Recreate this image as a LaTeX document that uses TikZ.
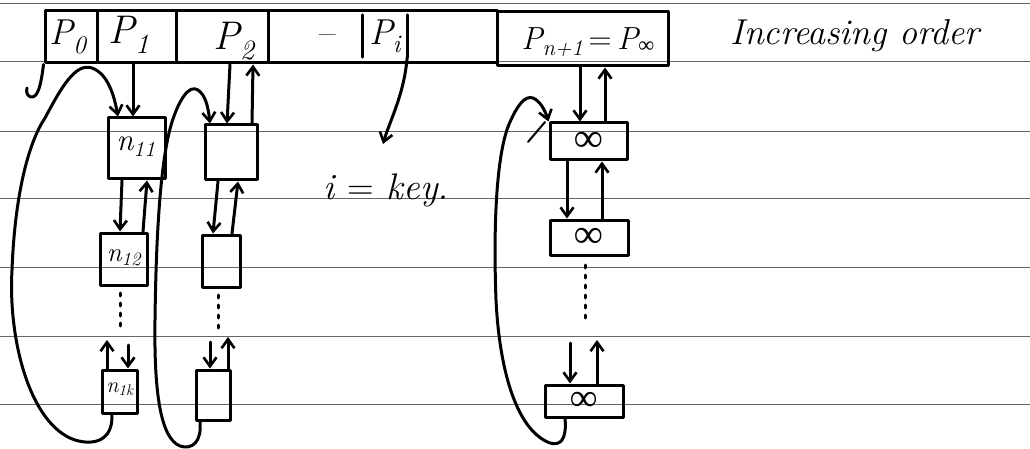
\documentclass[tikz,border=0pt]{standalone}
\usepackage{fontspec}
\newfontfamily\symf{Liberation Serif}
\usetikzlibrary{arrows.meta}
\tikzset{
  rule/.style={black!60, line width=1pt},
  ink/.style={black, line width=3pt, line cap=round, line join=round},
  thinink/.style={black, line width=2pt, line cap=round, line join=round},
  arr/.style={ink, -{Straight Barb[length=9pt,width=13pt,line width=2.6pt]}},
  cellbox/.style={draw, ink, inner sep=0pt},
  listbox/.style={draw, ink, inner sep=0pt},
  lab/.style={inner sep=0pt, font=\itshape\fontsize{40}{42}\selectfont},
  nlab/.style={inner sep=0pt, font=\itshape\fontsize{#1}{#1}\selectfont},
  inf/.style={font=\symf\bfseries\fontsize{#1}{#1}\selectfont},
  dots/.style={black, line width=3pt, line cap=round, dash pattern=on 3pt off 7pt},
}
\begin{document}
\begin{tikzpicture}[x=1pt,y=-1pt]
\useasboundingbox (0,0) rectangle (1030,449);
\fill[white] (0,0) rectangle (1030,449);
% ruled lines
\foreach \yy in {4,62,132,199,267,336,404}
  \draw[rule] (0,\yy) -- (1030,\yy);

% top row of cells
\node[cellbox, minimum width=52pt, minimum height=52pt] (c0) at (71,37) {};
\node[cellbox, minimum width=79pt, minimum height=52pt] (c1) at (136.5,37) {};
\node[cellbox, minimum width=92pt, minimum height=52pt] (c2) at (222,37) {};
\node[cellbox, minimum width=229pt, minimum height=52pt] (cd) at (382.5,37) {};
\node[cellbox, minimum width=171pt, minimum height=54pt] (cinf) at (582.5,39) {};

\node[lab, font=\itshape\fontsize{36}{38}\selectfont] (lp0) at (68,37) {P\textsubscript{0}};
\node[lab] (lp1) at (129,35) {P\textsubscript{1}};
\node[lab] (lp2) at (234,41) {P\textsubscript{2}};
\node[lab, font=\fontsize{36}{38}\selectfont] (ldash) at (328,40) {–};
\node[lab, font=\itshape\fontsize{36}{38}\selectfont, minimum width=44pt, minimum height=42pt] (lpi) at (385,36) {P\textsubscript{i}};
\draw[ink] (lpi.north west) -- (lpi.south west);
\draw[ink] (lpi.north east) -- (lpi.south east);
\node[lab, font=\itshape\fontsize{32}{34}\selectfont] (lpinf) at (588,42) {P\textsubscript{n+1}\,{\upshape=}\,P\textsubscript{{\symf\upshape ∞}}};

\node[inner sep=0pt, font=\itshape\fontsize{36}{38}\selectfont] (title) at (855,36) {Increasing order};

% hook under P0
\draw[ink] (c0.south west) .. controls (41,85) and (38,98) .. (31,97) .. controls (27,96) and (26,92) .. (27,88);

% column 1
\node[listbox, minimum width=57pt, minimum height=61pt] (n11) at (136.5,148.5) {};
\node[nlab=31] (ln11) at (136,147) {n\textsubscript{11}};
\node[listbox, minimum width=47pt, minimum height=52pt] (n12) at (123.5,259) {};
\node[nlab=27] (ln12) at (124,258) {n\textsubscript{12}};
\node[listbox, minimum width=35pt, minimum height=43pt] (n1k) at (119.5,391.5) {};
\node[nlab=22] (ln1k) at (120,389) {n\textsubscript{1k}};

\draw[arr] ([xshift=-3.5]c1.south) -- ([xshift=-3.5]n11.north);
\draw[arr] ([xshift=-14.5]n11.south) -- ([xshift=-3.5]n12.north);
\draw[arr] ([xshift=19.5]n12.north) -- ([xshift=10.5]n11.south);
\coordinate (d1t) at (120,293);
\coordinate (d1b) at (120,331);
\draw[dots] (d1t) -- (d1b);
\coordinate (u1) at (107,340);
\coordinate (w1) at (128,345);
\draw[arr] ([xshift=-12.5]n1k.north) -- (u1);
\draw[arr] (w1) -- ([xshift=8.5]n1k.north);
\draw[arr] ([xshift=-7.5]n1k.south) .. controls (113,440) and (95,446) .. (75,440)
   .. controls (30,425) and (8,340) .. (12,270)
   .. controls (15,190) and (30,140) .. (45,118)
   .. controls (60,90) and (75,62) .. (92,68)
   .. controls (108,74) and (114,95) .. ([xshift=-18.5]n11.north);

% column 2
\node[listbox, minimum width=52pt, minimum height=55pt] (b21) at (231,152.5) {};
\node[listbox, minimum width=38pt, minimum height=52pt] (b22) at (221,261) {};
\node[listbox, minimum width=34pt, minimum height=50pt] (b2k) at (213,395) {};

\draw[arr] ([xshift=8]c2.south) -- ([xshift=-4]b21.north);
\draw[arr] ([xshift=21]b21.north) -- ([xshift=31]c2.south);
\draw[arr] ([xshift=-13]b21.south) -- ([xshift=-8]b22.north);
\draw[arr] ([xshift=11]b22.north) -- ([xshift=7]b21.south);
\coordinate (d2t) at (218,295);
\coordinate (d2b) at (218,331);
\draw[dots] (d2t) -- (d2b);
\coordinate (w2) at (210,342);
\coordinate (u2) at (228,337);
\draw[arr] (w2) -- ([xshift=-3]b2k.north);
\draw[arr] ([xshift=15]b2k.north) -- (u2);
\draw[arr] ([xshift=-13]b2k.south) .. controls (202,442) and (192,450) .. (180,446)
   .. controls (160,438) and (154,390) .. (155,320)
   .. controls (156,240) and (160,160) .. (172,122)
   .. controls (179,100) and (189,84) .. (198,90)
   .. controls (205,95) and (208,105) .. ([xshift=-21]b21.north);

% P_i pointer
\node[inner sep=0pt, anchor=base west, font=\itshape\fontsize{37}{39}\selectfont] (key) at (323,200) {i {\upshape=} key.};
\coordinate (keyptr) at (383,144);
\draw[arr] (lpi.south east) .. controls (404,95) and (390,120) .. (keyptr);

% column infinity
\node[listbox, minimum width=77pt, minimum height=37pt, inf=40] (i1) at (588.5,141.5) {∞};
\node[listbox, minimum width=78pt, minimum height=35pt, inf=40] (i2) at (589,237.5) {∞};
\node[listbox, minimum width=78pt, minimum height=32pt, inf=38] (i3) at (584,401) {∞};
\draw[thinink] (528,142) -- (545,122);

\draw[arr] ([xshift=-2.5]cinf.south) -- ([xshift=-8.5]i1.north);
\draw[arr] ([xshift=16.5]i1.north) -- ([xshift=22.5]cinf.south);
\draw[arr] ([xshift=-21.5]i1.south) -- ([xshift=-22]i2.north);
\draw[arr] ([xshift=13]i2.north) -- ([xshift=13.5]i1.south);
\coordinate (d3t) at (585,265);
\coordinate (d3b) at (585,318);
\draw[dots] (d3t) -- (d3b);
\coordinate (w3) at (570,343);
\coordinate (u3) at (597,340);
\draw[arr] (w3) -- ([xshift=-14]i3.north);
\draw[arr] ([xshift=13]i3.north) -- (u3);
\draw[arr] ([xshift=-19]i3.south) .. controls (567,440) and (560,446) .. (550,443)
   .. controls (520,432) and (500,380) .. (496,300)
   .. controls (493,220) and (497,150) .. (510,122)
   .. controls (517,106) and (525,95) .. (533,98)
   .. controls (540,101) and (545,110) .. (i1.north west);
\end{tikzpicture}
\end{document}
